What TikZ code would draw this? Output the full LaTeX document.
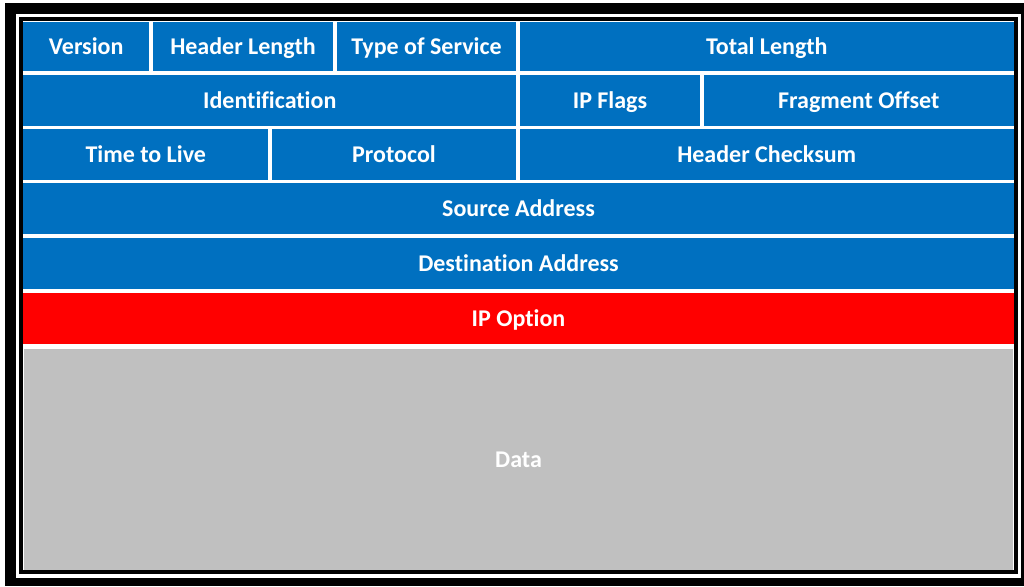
\documentclass[tikz,border=0pt]{standalone}
\usepackage{fontspec}
\setmainfont[Ligatures=NoCommon]{Carlito}
\usepackage{xcolor}
\definecolor{bleuEntete}{RGB}{0, 112, 192}
\definecolor{rougeOption}{RGB}{255, 0, 0}
\definecolor{grisDonnees}{RGB}{192, 192, 192}

\begin{document}
\begin{tikzpicture}[
  x=1pt, y=-1pt,
  cell/.style={rectangle, draw=white, line width=3.5pt, fill=bleuEntete,
    text=white, inner sep=0pt, text height=20pt, text depth=4.5pt,
    font=\fontsize{24}{28}\selectfont\bfseries},
  option/.style={cell, fill=rougeOption},
  donnees/.style={cell, fill=grisDonnees},
]
\useasboundingbox (0,0) rectangle (1024,586);
% cadre double
\fill[black] (5,3) rectangle (1024,586);
\fill[white] (16,14) rectangle (1021,578);
\fill[black] (19,17) rectangle (1017,575);

% ligne 1
\node[cell, minimum width=129.5pt, minimum height=52.5pt] (version) at (86.25,46.75) {Version};
\node[cell, minimum width=184pt, minimum height=52.5pt] (hlen) at (243,46.75) {Header Length};
\node[cell, minimum width=183pt, minimum height=52.5pt] (tos) at (426.5,46.75) {Type of Service};
\node[cell, minimum width=497.5pt, minimum height=52.5pt] (totlen) at (766.75,46.75) {Total Length};
% ligne 2
\node[cell, minimum width=496.5pt, minimum height=54.5pt] (ident) at (269.75,100.25) {Identification};
\node[cell, minimum width=184pt, minimum height=54.5pt] (flags) at (610,100.25) {IP Flags};
\node[cell, minimum width=313.5pt, minimum height=54.5pt] (frag) at (858.75,100.25) {Fragment Offset};
% ligne 3
\node[cell, minimum width=248.5pt, minimum height=54pt] (ttl) at (145.75,154.5) {Time to Live};
\node[cell, minimum width=248pt, minimum height=54pt] (proto) at (394,154.5) {Protocol};
\node[cell, minimum width=497.5pt, minimum height=54pt] (chk) at (766.75,154.5) {Header Checksum};
% adresses
\node[cell, minimum width=994pt, minimum height=54.5pt] (src) at (518.5,208.75) {Source Address};
\node[cell, minimum width=994pt, minimum height=55pt] (dst) at (518.5,263.5) {Destination Address};
% options et donnees
\node[option, minimum width=994pt, minimum height=55pt] (opt) at (518.5,318.5) {IP Option};
\node[donnees, line width=5pt, minimum width=994pt, minimum height=228pt] (data) at (518.5,460) {Data};

% bord interieur
\draw[black, line width=4pt] (20.5,19.5) rectangle (1015.5,571.5);
\end{tikzpicture}
\end{document}
